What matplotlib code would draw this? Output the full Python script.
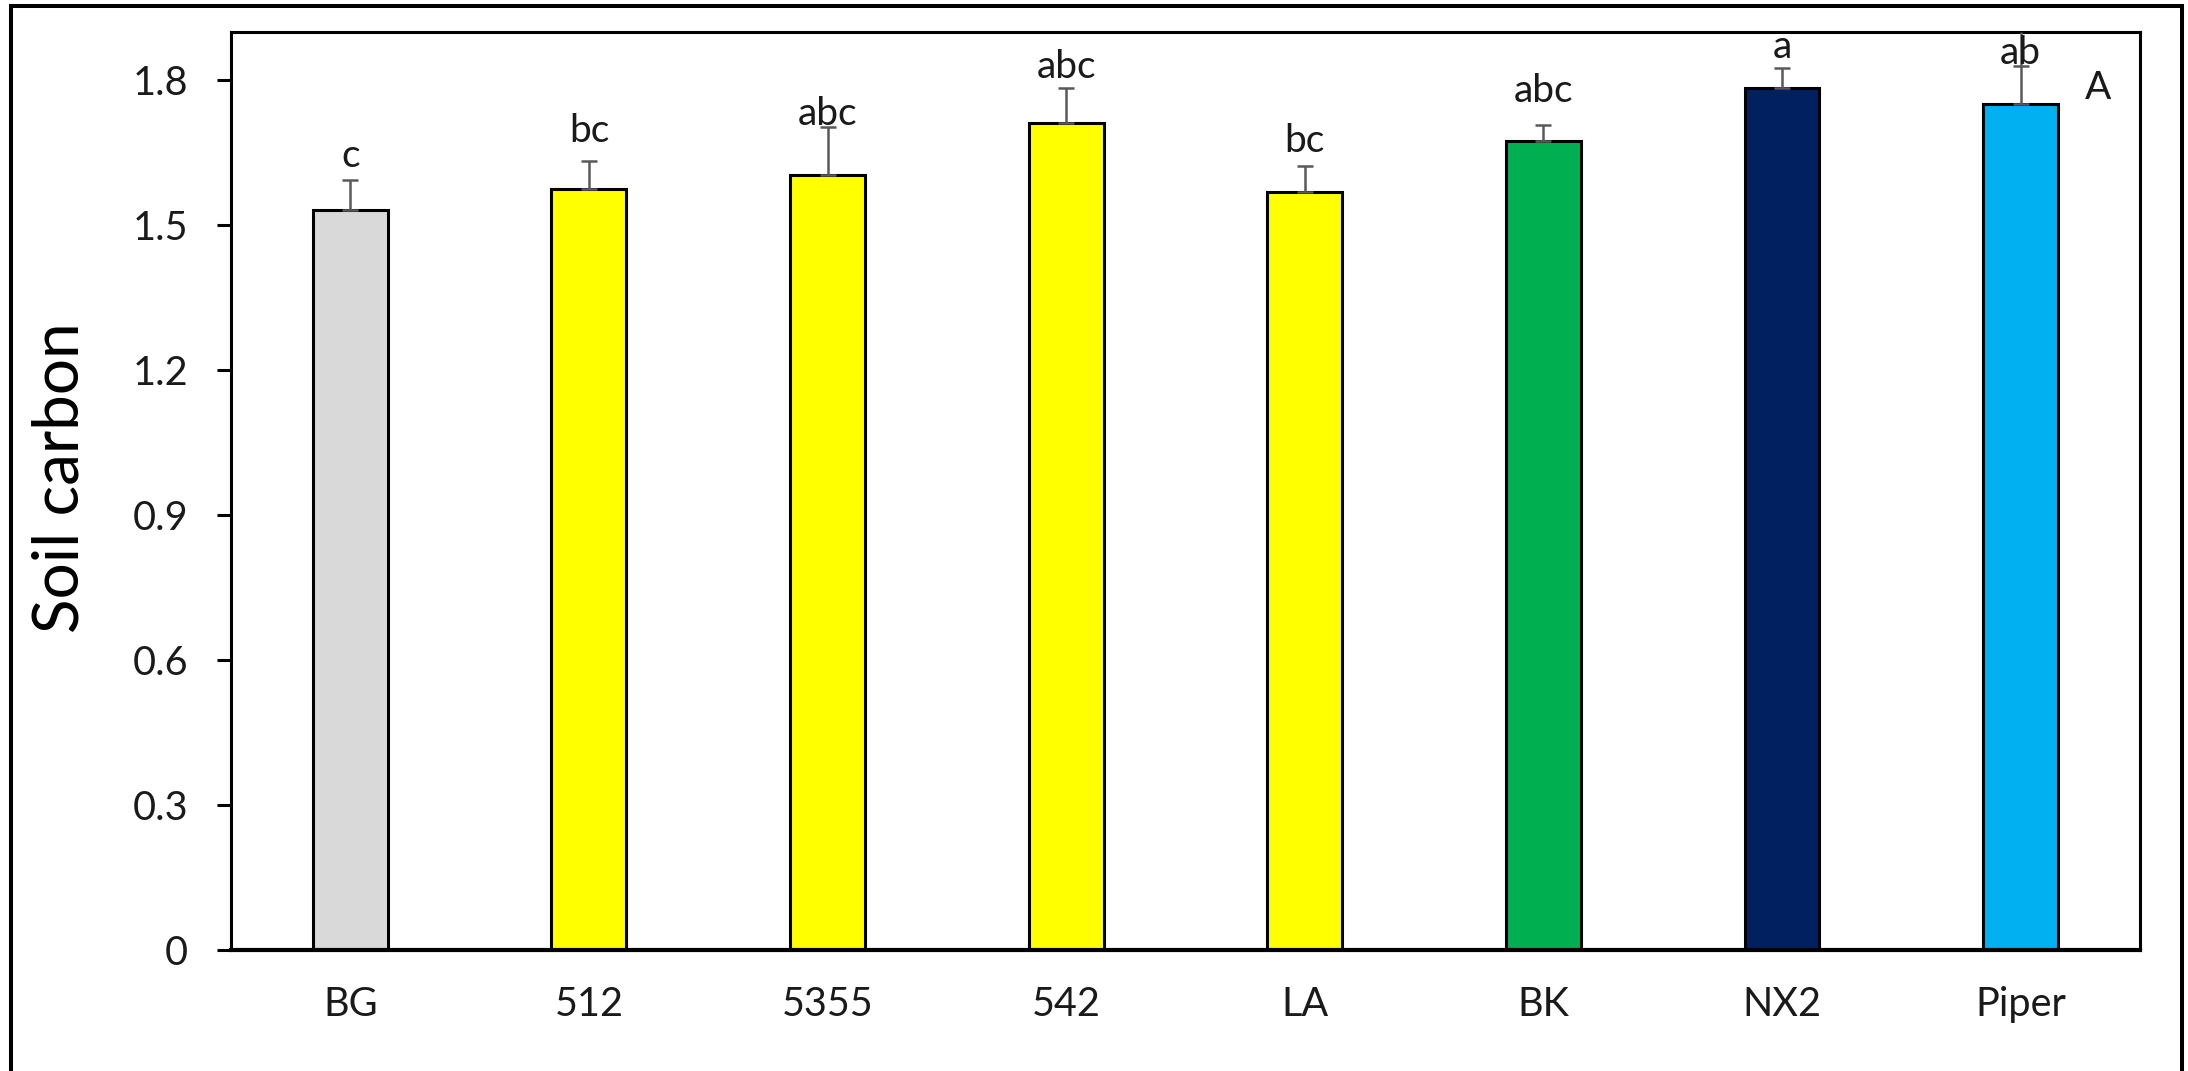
import matplotlib
matplotlib.use("Agg")
import matplotlib.pyplot as plt
from matplotlib.patches import Rectangle
import numpy as np

# soil carbon by treatment
treatments = ['BG', '512', '5355', '542', 'LA', 'BK', 'NX2', 'Piper']
carbon_mean = [1.531, 1.575, 1.604, 1.711, 1.568, 1.675, 1.785, 1.750]
carbon_se = [0.062, 0.058, 0.100, 0.073, 0.054, 0.032, 0.040, 0.080]
letters = ['c', 'bc', 'abc', 'abc', 'bc', 'abc', 'a', 'ab']
y_ticks = [0, 0.3, 0.6, 0.9, 1.2, 1.5, 1.8]
y_tick_labels = ['0', '0.3', '0.6', '0.9', '1.2', '1.5', '1.8']
panel_label = 'A'

bar_colors = ['#D9D9D9', '#FFFF00', '#FFFF00', '#FFFF00', '#FFFF00',
              '#00B050', '#002060', '#00B0F0']
# letter baseline gap above each error cap, in pixels
letter_gap = [13, 19, 2, 10, 14, 23, 10, 2]

plt.rcParams['font.family'] = ['Lato', 'DejaVu Sans']
text_color = '#1a1a1a'
err_color = '#595959'

fig = plt.figure(figsize=(21.88, 10.71), dpi=100)
ax = fig.add_axes([0.1056, 0.1130, 0.978 - 0.1056, 0.9701 - 0.1130])

x = np.arange(len(treatments))
ax.bar(x, carbon_mean, width=0.314, color=bar_colors,
       edgecolor='black', linewidth=2.2, zorder=2)
ax.errorbar(x, carbon_mean, yerr=[np.zeros(len(x)), carbon_se],
            fmt='none', ecolor=err_color, elinewidth=1.8,
            capsize=6, capthick=1.8, zorder=3)

ax.set_xlim(-0.5, len(treatments) - 0.5)
ax.set_ylim(0, 1.9)

# the Piper whisker runs on up to the frame
ax.vlines(x[-1], carbon_mean[-1] + carbon_se[-1], ax.get_ylim()[1],
          color=err_color, linewidth=1.8, zorder=3)

for xi, m, s, lab, gap in zip(x, carbon_mean, carbon_se, letters, letter_gap):
    ax.annotate(lab, (xi, m + s), xytext=(0, gap), textcoords='offset pixels',
                ha='center', va='baseline', fontsize=28, color=text_color,
                zorder=4)

ax.text(0.978, 0.939, panel_label, transform=ax.transAxes, ha='center',
        va='center', fontsize=28, color=text_color)

ax.set_yticks(y_ticks)
ax.set_yticklabels(y_tick_labels)
ax.set_xticks(x)
ax.set_xticklabels(treatments)
ax.tick_params(axis='y', direction='out', length=10, width=2.2,
               pad=21, labelsize=28.5, labelcolor=text_color)
ax.tick_params(axis='x', length=0, pad=26, labelsize=28.5,
               labelcolor=text_color)

for side in ['left', 'right', 'top', 'bottom']:
    ax.spines[side].set_linewidth(2.2)
    ax.spines[side].set_color('black')
ax.spines['bottom'].set_linewidth(3)

ax.set_ylabel('Soil carbon', fontsize=46, color='black', labelpad=31)
ax.yaxis.label.set_y(0.514)

# chart border
fig.patches.append(Rectangle((0.0049, -0.05), 0.99726 - 0.0049, 0.9944 + 0.05,
                             transform=fig.transFigure, fill=False,
                             edgecolor='black', linewidth=2.9))

fig.savefig('out.png', dpi=100)
